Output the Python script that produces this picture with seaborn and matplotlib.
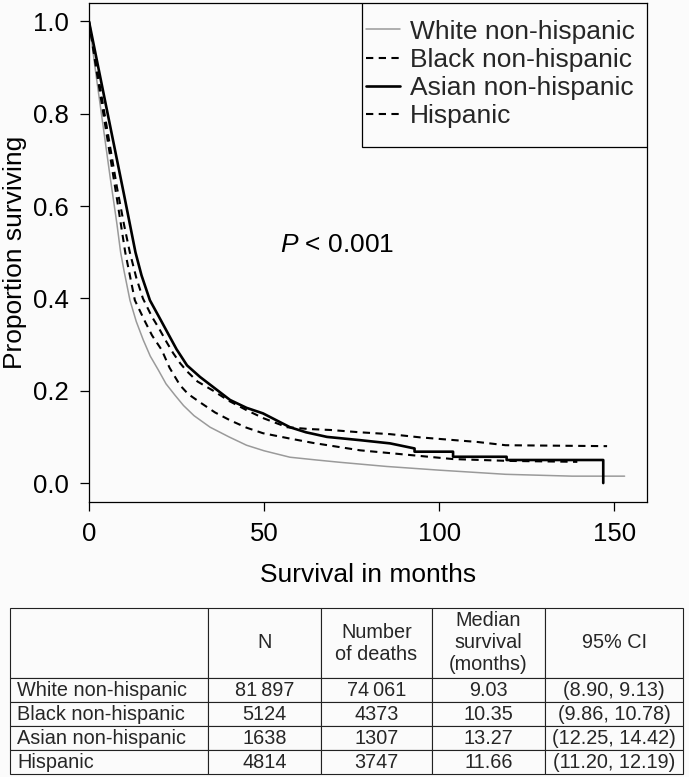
import matplotlib
matplotlib.use("Agg")
import matplotlib.pyplot as plt
from matplotlib.patches import Rectangle
import pandas as pd
import seaborn as sns

# --- data ---
groups = ["White non-hispanic", "Black non-hispanic", "Asian non-hispanic", "Hispanic"]

white_t = [0, 2, 4, 6, 8, 9.03, 10, 11.7, 13.5, 15.5, 17.5, 19.8, 22, 24.6, 27, 30, 34.6, 40, 45, 50,
           57.4, 65, 71.7, 85, 100, 119, 138, 153]
white_s = [1.0, 0.885, 0.775, 0.665, 0.56, 0.50, 0.46, 0.396, 0.35, 0.31, 0.275, 0.245, 0.215, 0.19,
           0.168, 0.146, 0.121, 0.10, 0.082, 0.07, 0.056, 0.05, 0.045, 0.036, 0.028, 0.019, 0.015, 0.015]

black_t = [0, 2, 4, 6, 8, 10.35, 13.1, 16, 18, 20.8, 23, 26, 28.3, 31.7, 36, 40.3, 45, 49.7, 57, 64,
           77.4, 90, 104, 120, 139.5]
black_s = [1.0, 0.90, 0.805, 0.71, 0.615, 0.50, 0.396, 0.35, 0.32, 0.288, 0.25, 0.212, 0.193, 0.175,
           0.153, 0.136, 0.12, 0.108, 0.097, 0.087, 0.071, 0.062, 0.052, 0.048, 0.046]

asian_t = [0, 2, 4, 6, 8, 10, 13.27, 15, 17.4, 20, 22.5, 25, 28, 31.7, 36, 40.3, 45, 49.7, 57.4, 62,
           68, 77.4, 86, 93, 93, 104, 104, 119.3, 119.3, 146.9, 146.9]
asian_s = [1.0, 0.925, 0.85, 0.775, 0.70, 0.625, 0.50, 0.45, 0.396, 0.36, 0.325, 0.29, 0.255, 0.23,
           0.205, 0.18, 0.163, 0.151, 0.121, 0.11, 0.10, 0.093, 0.086, 0.075, 0.068, 0.068, 0.057,
           0.057, 0.050, 0.050, 0.0]

hisp_t = [0, 2, 4, 6, 8, 10, 11.66, 13.5, 15.4, 18, 20, 22.2, 24, 26, 28, 31, 35.5, 40, 45, 50, 56.6,
          63, 69, 77.4, 86, 94.6, 111, 119, 148]
hisp_s = [1.0, 0.91, 0.82, 0.73, 0.64, 0.56, 0.50, 0.445, 0.40, 0.36, 0.335, 0.305, 0.282, 0.26, 0.242,
          0.22, 0.20, 0.178, 0.158, 0.14, 0.121, 0.117, 0.115, 0.11, 0.106, 0.099, 0.089, 0.082, 0.08]

n_patients = ["81\u2009897", "5124", "1638", "4814"]
n_deaths = ["74\u2009061", "4373", "1307", "3747"]
median_surv = ["9.03", "10.35", "13.27", "11.66"]
ci_95 = ["(8.90, 9.13)", "(9.86, 10.78)", "(12.25, 14.42)", "(11.20, 12.19)"]
table_header = ["", "N", "Number\nof deaths", "Median\nsurvival\n(months)", "95% CI"]

x_ticks = [0, 50, 100, 150]
y_ticks = [0.0, 0.2, 0.4, 0.6, 0.8, 1.0]

sns.set_theme(style="ticks")
plt.rcParams["font.family"] = ["Liberation Sans", "DejaVu Sans"]
plt.rcParams["mathtext.fontset"] = "custom"
plt.rcParams["mathtext.it"] = "Liberation Sans:italic"
plt.rcParams["mathtext.rm"] = "Liberation Sans"

bg = "#fbfbfb"
fig = plt.figure(figsize=(6.89, 7.77), dpi=100, facecolor=bg)
ax = fig.add_axes([89 / 689, 275 / 777, 558 / 689, 499 / 777], facecolor=bg)

curves = [
    (groups[0], white_t, white_s, dict(color="#9a9a9a", lw=1.1, linestyle="-")),
    (groups[1], black_t, black_s, dict(color="black", lw=1.5, dashes=(3.5, 2.6))),
    (groups[2], asian_t, asian_s, dict(color="black", lw=1.9, linestyle="-")),
    (groups[3], hisp_t, hisp_s, dict(color="black", lw=1.5, dashes=(3.5, 2.6))),
]
for name, t, s, style in curves:
    df = pd.DataFrame({"time": t, "surv": s})
    sns.lineplot(data=df, x="time", y="surv", ax=ax, estimator=None, sort=False,
                 label=name, **style)

ax.set_xlim(0, 159.4)
ax.set_ylim(-0.041, 1.04)
ax.set_xticks(x_ticks)
ax.set_yticks(y_ticks)
ax.set_yticklabels([f"{v:.1f}" for v in y_ticks])
ax.tick_params(axis="both", direction="out", length=6.5, width=0.9, color="black",
               labelsize=18.5, labelcolor="black")
ax.tick_params(axis="x", pad=8)
ax.tick_params(axis="y", pad=8)
for sp in ax.spines.values():
    sp.set_visible(True)
    sp.set_color("black")
    sp.set_linewidth(0.9)

ax.set_xlabel("Survival in months", fontsize=19, color="black", labelpad=12)
ax.set_ylabel("Proportion surviving", fontsize=19, color="black", labelpad=4)

ax.text(54.5, 0.515, r"$P$ < 0.001", fontsize=19, va="center", ha="left", color="black")

# legend: R-style box with more room above and below than at the sides
leg_x0 = (362 - 89) / 558
leg_y0 = (502 - 147) / 499
ax.add_patch(Rectangle((leg_x0, leg_y0), 1 - leg_x0, 1 - leg_y0, transform=ax.transAxes,
                       facecolor=bg, edgecolor="black", lw=0.9, zorder=4))
leg = ax.legend(loc="center left", bbox_to_anchor=((366 - 89) / 558, (502 - 74) / 499),
                borderaxespad=0, borderpad=0, frameon=False, fontsize=19,
                handlelength=1.3, handletextpad=0.38, labelspacing=0.16)
leg.set_zorder(5)

# --- summary table under the plot ---
tab_ax = fig.add_axes([10 / 689, 3 / 777, 673 / 689, 166 / 777])
tab_ax.axis("off")
rows = [[g, n, d, m, c] for g, n, d, m, c in zip(groups, n_patients, n_deaths, median_surv, ci_95)]
col_w = [198, 113, 111, 113, 138]
tbl = tab_ax.table(cellText=[table_header] + rows, colWidths=[w / sum(col_w) for w in col_w],
                   cellLoc="center", bbox=[0, 0, 1, 1])
tbl.auto_set_font_size(False)
tbl.set_fontsize(14.3)
for (r, c), cell in tbl.get_celld().items():
    cell.set_height(70 if r == 0 else 24)
    cell.set_edgecolor("#222222")
    cell.set_linewidth(0.8)
    cell.set_facecolor(bg)
    cell.get_text().set_linespacing(1.2)
    if c == 0 and r > 0:
        cell.get_text().set_horizontalalignment("left")
        cell.PAD = 0.035

fig.savefig("out.png", dpi=100, facecolor=bg)
